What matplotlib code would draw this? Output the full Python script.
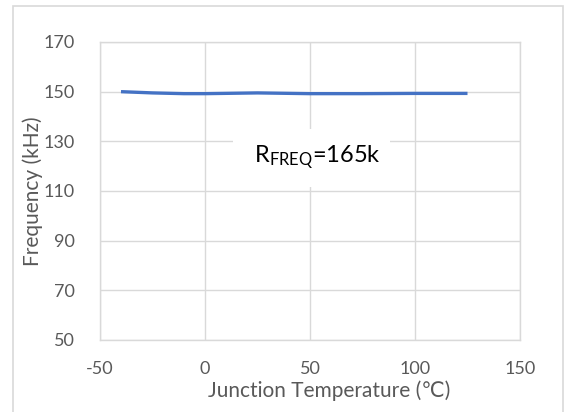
import matplotlib
matplotlib.use("Agg")
import matplotlib.pyplot as plt
from matplotlib.patches import Rectangle

plt.rcParams['font.family'] = ['Lato', 'DejaVu Sans']
plt.rcParams['mathtext.fontset'] = 'custom'
plt.rcParams['mathtext.rm'] = 'Lato'
plt.rcParams['mathtext.it'] = 'Lato:italic'
plt.rcParams['axes.unicode_minus'] = False

temperature = [-40, -25, -10, 0, 25, 50, 75, 100, 125]
frequency = [150.0, 149.5, 149.2, 149.2, 149.5, 149.2, 149.2, 149.3, 149.3]
x_ticks = [-50, 0, 50, 100, 150]
y_ticks = [50, 70, 90, 110, 130, 150, 170]

fig = plt.figure(figsize=(5.66, 4.12), dpi=100)
ax = fig.add_axes([100/566, 1-340/412, 420/566, 298/412])

grid_c = '#d9d9d9'
text_c = '#595959'

ax.plot(temperature, frequency, color='#4472C4', lw=2.4, zorder=4, solid_capstyle='butt')
ax.set_xlim(-50, 150)
ax.set_ylim(50, 170)
ax.set_xticks(x_ticks)
ax.set_yticks(y_ticks)
ax.grid(True, color=grid_c, lw=1.0, zorder=0)
ax.set_axisbelow(True)
for s in ax.spines.values():
    s.set_color(grid_c)
    s.set_linewidth(1.0)
ax.tick_params(length=0, labelsize=13, colors=text_c)
ax.tick_params(axis='y', pad=18)
ax.tick_params(axis='x', pad=15)

ax.set_xlabel('Junction Temperature (\u2103)', fontsize=15, color=text_c)
ax.set_ylabel('Frequency (kHz)', fontsize=15, color=text_c)
ax.xaxis.set_label_coords(0.545, (340 - 391) / 298)
ax.xaxis.label.set_verticalalignment('center')
ax.yaxis.set_label_coords((33 - 100) / 420, 0.5)
ax.yaxis.label.set_verticalalignment('center')

# white label box
ax.add_patch(Rectangle((13.3, 111.7), 75.0, 23.3, facecolor='white', edgecolor='none', zorder=2))
ax.text(53.5, 123.5, r'$\mathrm{R_{FREQ}}$=165k', fontsize=17, color='black',
        ha='center', va='center', zorder=5)

# outer chart border
fig.patches.append(Rectangle((13/566, -0.05), 550/566, 1.05 - 6/412, transform=fig.transFigure,
                             facecolor='none', edgecolor='#d9d9d9', lw=1.2))

fig.savefig('out.png', dpi=100)
